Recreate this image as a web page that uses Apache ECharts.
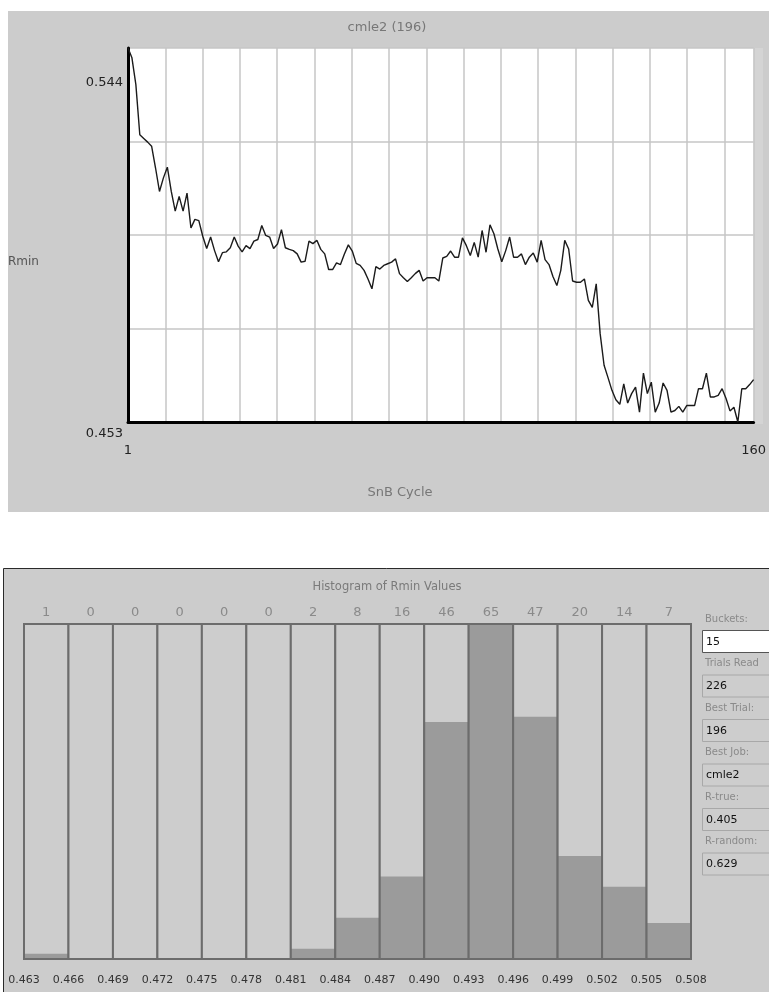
<!DOCTYPE html>
<html>
<head>
<meta charset="utf-8">
<script src="https://cdn.jsdelivr.net/npm/echarts@6/dist/echarts.min.js"></script>
<style>
  html, body { margin: 0; padding: 0; background: #ffffff; }
  #chart { width: 769px; height: 992px; }
</style>
</head>
<body>
<div id="chart"></div>
<script>
// Rmin per SnB cycle for the best trial (cmle2, trial 196)
const cycleRange = [1, 160];
const rminRange = [0.453, 0.544];
const rmin = [
  0.5440, 0.5416, 0.5351, 0.5229, 0.5220, 0.5211, 0.5201, 0.5148, 0.5091, 0.5124,
  0.5150, 0.5091, 0.5043, 0.5079, 0.5043, 0.5087, 0.5002, 0.5023, 0.5020, 0.4982,
  0.4952, 0.4980, 0.4947, 0.4920, 0.4942, 0.4944, 0.4954, 0.4980, 0.4958, 0.4944,
  0.4959, 0.4952, 0.4970, 0.4974, 0.5008, 0.4984, 0.4980, 0.4952, 0.4963, 0.4998,
  0.4954, 0.4950, 0.4947, 0.4939, 0.4919, 0.4921, 0.4970, 0.4964, 0.4972, 0.4950,
  0.4939, 0.4901, 0.4901, 0.4917, 0.4913, 0.4939, 0.4961, 0.4946, 0.4916, 0.4911,
  0.4899, 0.4878, 0.4854, 0.4908, 0.4902, 0.4911, 0.4915, 0.4919, 0.4927, 0.4891,
  0.4881, 0.4872, 0.4881, 0.4891, 0.4899, 0.4873, 0.4881, 0.4881, 0.4881, 0.4873,
  0.4929, 0.4933, 0.4946, 0.4931, 0.4931, 0.4978, 0.4959, 0.4935, 0.4967, 0.4931,
  0.4996, 0.4943, 0.5010, 0.4988, 0.4951, 0.4920, 0.4947, 0.4980, 0.4931, 0.4931,
  0.4939, 0.4913, 0.4931, 0.4941, 0.4919, 0.4972, 0.4925, 0.4913, 0.4884, 0.4862,
  0.4899, 0.4972, 0.4951, 0.4873, 0.4870, 0.4870, 0.4878, 0.4826, 0.4809, 0.4866,
  0.4745, 0.4668, 0.4638, 0.4607, 0.4584, 0.4573, 0.4623, 0.4576, 0.4599, 0.4615,
  0.4554, 0.4649, 0.4599, 0.4627, 0.4554, 0.4576, 0.4625, 0.4607, 0.4554, 0.4558,
  0.4568, 0.4554, 0.4570, 0.4570, 0.4570, 0.4611, 0.4611, 0.4649, 0.4591, 0.4591,
  0.4595, 0.4611, 0.4587, 0.4557, 0.4566, 0.4530, 0.4611, 0.4611, 0.4621, 0.4633
];

// Histogram of final Rmin values over all trials
const binEdges = ['0.463', '0.466', '0.469', '0.472', '0.475', '0.478', '0.481', '0.484',
                  '0.487', '0.490', '0.493', '0.496', '0.499', '0.502', '0.505', '0.508'];
const binCounts = [1, 0, 0, 0, 0, 0, 2, 8, 16, 46, 65, 47, 20, 14, 7];

// Side panel fields
const fieldLabels = ['Buckets:', 'Trials Read', 'Best Trial:', 'Best Job:', 'R-true:', 'R-random:'];
const fieldValues = ['15', '226', '196', 'cmle2', '0.405', '0.629'];

const FONT = '"DejaVu Sans", "Liberation Sans", sans-serif';
const maxCount = Math.max(...binCounts);

const lineData = rmin.map((v, i) => [cycleRange[0] + i, v]);
const histData = binCounts.map((c, i) => [i, c]);

const graphics = [
  // panel backgrounds
  { type: 'rect', z: -10, shape: { x: 8, y: 11, width: 770, height: 501 }, style: { fill: '#cccccc' } },
  { type: 'rect', z: -10, shape: { x: 754, y: 48, width: 9, height: 376 }, style: { fill: '#d4d4d4' } },
  { type: 'rect', z: -10, shape: { x: 3.5, y: 568.5, width: 800, height: 500 },
    style: { fill: '#cccccc', stroke: '#2a2a2a', lineWidth: 1 } },
  // titles and axis captions
  { type: 'text', x: 387, y: 28, style: { text: 'cmle2 (196)', fill: '#777777', font: '13px ' + FONT, align: 'center', verticalAlign: 'middle' } },
  { type: 'text', x: 400, y: 493, style: { text: 'SnB Cycle', fill: '#777777', font: '13px ' + FONT, align: 'center', verticalAlign: 'middle' } },
  { type: 'text', x: 8, y: 262, style: { text: 'Rmin', fill: '#555555', font: '12px ' + FONT, align: 'left', verticalAlign: 'middle' } },
  { type: 'text', x: 387, y: 587, style: { text: 'Histogram of Rmin Values', fill: '#7a7a7a', font: '11.5px ' + FONT, align: 'center', verticalAlign: 'middle' } }
];

// side panel: caption + value box per field
fieldLabels.forEach((label, i) => {
  const y0 = 619 + i * 44.5;
  graphics.push({ type: 'text', x: 705, y: y0, style: { text: label, fill: '#8a8a8a', font: '10px ' + FONT, align: 'left', verticalAlign: 'middle' } });
  graphics.push({ type: 'rect', shape: { x: 702.5, y: y0 + 11.5, width: 80, height: 22 },
    style: { fill: i === 0 ? '#ffffff' : '#cdcdcd', stroke: i === 0 ? '#555555' : '#a8a8a8', lineWidth: 1 } });
  graphics.push({ type: 'text', x: 706, y: y0 + 23, style: { text: fieldValues[i], fill: '#111111', font: '11px ' + FONT, align: 'left', verticalAlign: 'middle' } });
});

const chart = echarts.init(document.getElementById('chart'), null, { renderer: 'canvas', devicePixelRatio: 1 });

chart.setOption({
  animation: false,
  backgroundColor: '#ffffff',
  graphic: graphics,
  grid: [
    { left: 128, top: 48, width: 626, height: 374, show: true, backgroundColor: '#ffffff', borderWidth: 0 },
    { left: 24, top: 624, width: 667, height: 335 }
  ],
  xAxis: [
    {
      gridIndex: 0, type: 'value', min: cycleRange[0], max: cycleRange[1],
      axisLine: { onZero: false, lineStyle: { color: '#000000', width: 3 } },
      axisTick: { show: false }, splitLine: { show: false },
      axisLabel: { customValues: cycleRange, margin: 22, color: '#222222', fontSize: 13, fontFamily: FONT }
    },
    {
      // vertical grid lines
      gridIndex: 0, type: 'value', min: 0, max: 16.78, interval: 1,
      axisLine: { show: false }, axisTick: { show: false }, axisLabel: { show: false },
      splitLine: { show: true, lineStyle: { color: '#c6c6c6', width: 1.5 } }
    },
    {
      // bin counts above each bar
      gridIndex: 1, type: 'category', position: 'top', data: binCounts.map(String),
      axisLine: { show: false }, axisTick: { show: false },
      axisLabel: { margin: 5, color: '#8a8a8a', fontSize: 13, fontFamily: FONT, interval: 0 }
    },
    {
      // bin edges below the bars
      gridIndex: 1, type: 'value', position: 'bottom', min: 0, max: binEdges.length - 1, interval: 1,
      axisLine: { show: false }, axisTick: { show: false }, splitLine: { show: false },
      axisLabel: { margin: 16, color: '#333333', fontSize: 11, fontFamily: FONT, formatter: v => binEdges[v] }
    }
  ],
  yAxis: [
    {
      gridIndex: 0, type: 'value', min: rminRange[0], max: rminRange[1],
      axisLine: { show: true, onZero: false, lineStyle: { color: '#000000', width: 3 } },
      axisTick: { show: false }, splitLine: { show: false },
      axisLabel: {
        customValues: rminRange, margin: 5, color: '#222222', fontSize: 13, fontFamily: FONT,
        formatter: v => (v === rminRange[1] ? '{hi|' : '{lo|') + v.toFixed(3) + '}',
        rich: {
          hi: { padding: [70, 0, 0, 0], fontSize: 13, color: '#222222', fontFamily: FONT },
          lo: { padding: [24, 0, 0, 0], fontSize: 13, color: '#222222', fontFamily: FONT }
        }
      }
    },
    {
      // horizontal grid lines
      gridIndex: 0, type: 'value', min: 0, max: 4, interval: 1, position: 'left',
      axisLine: { show: false }, axisTick: { show: false }, axisLabel: { show: false },
      splitLine: { show: true, lineStyle: { color: '#c6c6c6', width: 1.5 } }
    },
    {
      gridIndex: 1, type: 'value', min: 0, max: maxCount, show: false
    }
  ],
  series: [
    {
      type: 'line', xAxisIndex: 0, yAxisIndex: 0, data: lineData,
      showSymbol: false, symbol: 'none', z: 5,
      lineStyle: { color: '#1b1b1b', width: 1.4 }
    },
    {
      type: 'custom', xAxisIndex: 2, yAxisIndex: 2, data: histData,
      renderItem: (params, api) => {
        const i = api.value(0);
        const c = api.value(1);
        const w = api.size([1, 0])[0];
        const base = api.coord([i, 0]);
        const top = api.coord([i, maxCount]);
        const lvl = api.coord([i, c]);
        const x = base[0] - w / 2;
        return {
          type: 'group',
          children: [
            { type: 'rect', shape: { x: x, y: top[1], width: w, height: base[1] - top[1] }, style: { fill: '#cdcdcd' } },
            { type: 'rect', shape: { x: x, y: lvl[1], width: w, height: base[1] - lvl[1] }, style: { fill: '#9b9b9b' } },
            { type: 'rect', shape: { x: x, y: top[1], width: w, height: base[1] - top[1] }, style: { fill: 'none', stroke: '#6c6c6c', lineWidth: 2 } }
          ]
        };
      }
    }
  ]
});
</script>
</body>
</html>
